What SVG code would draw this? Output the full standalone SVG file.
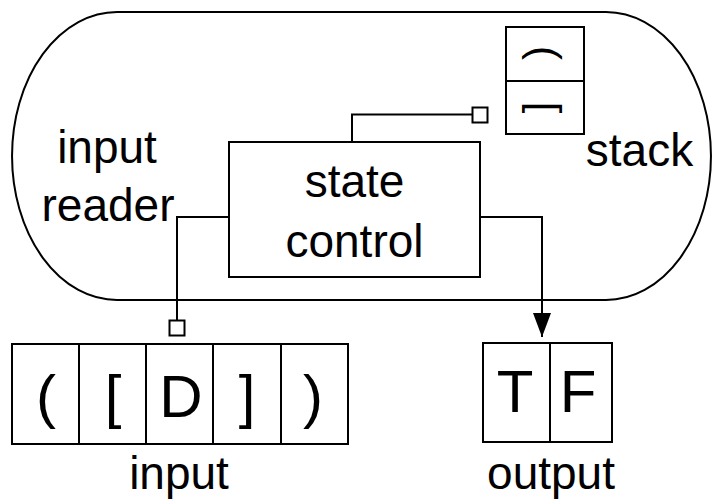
<svg xmlns="http://www.w3.org/2000/svg" width="713" height="500" viewBox="0 0 713 500">
<style>
.ln{fill:none;stroke:#000;stroke-width:2}
.box{fill:#fff;stroke:#000;stroke-width:2}
.t{font-family:"Liberation Sans",Arial,Helvetica,sans-serif;fill:#000;text-anchor:middle}
.lbl{font-size:46px}
.cell{font-size:60px}
.sym{font-size:42px}
</style>
<defs>
<marker id="arrow" viewBox="0 0 24 18" refX="24" refY="9" markerWidth="24" markerHeight="18" markerUnits="userSpaceOnUse" orient="auto">
<path d="M0,0 L24,9 L0,18 Z" fill="#000"/>
</marker>
</defs>
<rect width="713" height="500" fill="#fff"/>
<g id="machine">
<path class="ln" d="M117,12 H606 A105,144 0 0 1 606,300 H117 A105,144 0 0 1 117,12 Z"/>
</g>
<g id="input-reader-label">
<text class="t lbl" x="107" y="163">input</text>
<text class="t lbl" x="108" y="221">reader</text>
</g>
<g id="connectors">
<polyline class="ln" points="352,142 352,114.5 472.5,114.5"/>
<polyline class="ln" points="229,217 177,217 177,320"/>
<polyline class="ln" points="480,217 542,217 542,337" marker-end="url(#arrow)"/>
</g>
<g id="state-control">
<rect class="box" x="229" y="142" width="251" height="135"/>
<text class="t lbl" x="354.5" y="197">state</text>
<text class="t lbl" x="354.5" y="257">control</text>
</g>
<g id="stack">
<rect class="box" x="506" y="27" width="78" height="107"/>
<line class="ln" x1="506" y1="81" x2="584" y2="81"/>
<g transform="translate(541.5,53) rotate(90)"><text class="t sym" x="0" y="11">(</text></g>
<g transform="translate(541.5,107.5) rotate(90)"><text class="t sym" x="0" y="11">[</text></g>
<text class="t lbl" x="639.5" y="166">stack</text>
</g>
<g id="stack-port">
<rect class="box" x="472.5" y="107.5" width="15" height="15"/>
</g>
<g id="reader-port">
<rect class="box" x="169.5" y="320.5" width="15" height="15"/>
</g>
<g id="input">
<rect class="box" x="12" y="344" width="336" height="100"/>
<line class="ln" x1="79" y1="344" x2="79" y2="444"/>
<line class="ln" x1="146" y1="344" x2="146" y2="444"/>
<line class="ln" x1="213" y1="344" x2="213" y2="444"/>
<line class="ln" x1="281" y1="344" x2="281" y2="444"/>
<text class="t cell" x="46" y="417">(</text>
<text class="t cell" x="113" y="417">[</text>
<text class="t cell" x="181" y="417">D</text>
<text class="t cell" x="247" y="417">]</text>
<text class="t cell" x="313" y="417">)</text>
<text class="t lbl" x="179" y="489">input</text>
</g>
<g id="output">
<rect class="box" x="483" y="343" width="129" height="99"/>
<line class="ln" x1="550" y1="343" x2="550" y2="442"/>
<text class="t cell" x="515" y="412">T</text>
<text class="t cell" x="578" y="412">F</text>
<text class="t lbl" x="551" y="489">output</text>
</g>
</svg>
